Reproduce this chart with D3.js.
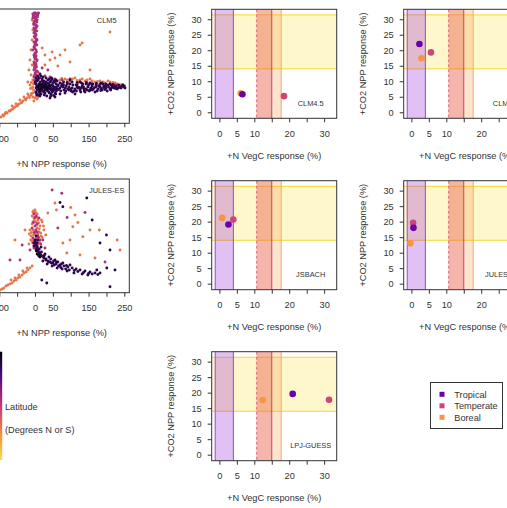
<!DOCTYPE html>
<html lang="en">
<head>
<meta charset="UTF-8">
<title>N and CO2 responses</title>
<script src="https://d3js.org/d3.v7.min.js"></script>
<style>
  body { margin: 0; background: #fff; }
  svg { display: block; font-family: "Liberation Sans", Arial, sans-serif; }
  .frame { fill: none; stroke: #333; stroke-width: 1; }
  .tick text { font-size: 9.2px; fill: #333; }
  .tick line { stroke: #333; }
  .title { font-size: 9.2px; fill: #333; }
  .model { font-size: 7.4px; fill: #333; }
</style>
</head>
<body>
<script>
// ---- small panels: model values per biome (tropical, temperate, boreal)
const biomes = ["Tropical", "Temperate", "Boreal"];
const clm45VegC = [6.6, 18.5, 6.1];
const clm45Npp  = [5.8, 5.2, 6.1];
const clm5VegC  = [2.3, 5.6, 2.9];
const clm5Npp   = [22.0, 19.3, 17.4];
const jsbachVegC = [2.6, 4.0, 0.8];
const jsbachNpp  = [19.1, 20.7, 21.2];
const julesVegC = [0.6, 0.5, -0.3];
const julesNpp  = [18.0, 19.6, 13.0];
const lpjVegC   = [21.0, 31.4, 12.4];
const lpjNpp    = [19.6, 17.7, 17.6];

// observed ranges (shaded)
const obsVegCTropical  = [-1.2, 4.0];
const obsVegCTemperate = [10.7, 15.0];
const obsVegCBoreal    = [10.7, 17.7];
const obsNppCO2        = [14.0, 31.4];

// ticks
const smallTicks = [0, 5, 10, 15, 20, 25, 30];
const smallXLabels = [0, 5, 10, 20, 30];
const bigTicks = [-100, -50, 0, 50, 100, 150, 200, 250];
const bigXLabels = [-100, 0, 50, 150, 250];

// ---- big panels: gridcell scatter, grouped by latitude (deg N or S)
const latGroups = [62, 40, 12, 3];
const clm5Lat62 = [[-6,-28],[-11,-36],[-17,-40],[-22,-48],[-28,-52],[-34,-60],[-39,-68],[-45,-72],[-50,-80],[-56,-84],[-62,-92],[-67,-96],[-73,-100],[-78,-108],[-84,-112],[-90,-116],[-95,-124],[-20,-32],[-31,-44],[-42,-56],[-53,-72],[-64,-80],
  [-10,-30],[-15,-46],[-26,-56],[-37,-66],[-48,-76],[-60,-88],[-70,-100],[-82,-106],[-88,-120],
  [-6,-44],[0,-48],[6,-52],[-3,-60],[3,-40],[8,-44],[-4,-16],[-6,-4],[-4,8],[-10,14],[-12,-10],
  [-8,184],[-11,144],[-14,104],[-8,84],[-17,64],[-11,44],[-6,24],[-14,4],[-8,-8],[-20,16],[-6,224],[-8,264],[-3,244],
  [70,24],[84,28],[98,20],[112,32],[126,24],[140,20],[154,28],[168,16],[182,20],[196,12],[210,16],[224,12],[238,4],[92,12],[120,12],[148,8],
  [60,20],[75,30],[90,24],[105,28],[118,22],[132,28],[146,24],[160,20],[175,18],[190,16],[204,20],[218,14],[230,8],[244,6],
  [28,84],[42,104],[56,112],[70,124],[84,144],[126,164],[210,216],[48,136],[64,80],[98,96],[154,64],[28,124],[20,152],[132,172]];
const clm5Lat40 = [[0,292],[3,288],[-3,284],[6,280],[0,272],[3,264],[-3,256],[0,248],[6,240],[3,232],[0,224],[-3,212],[3,204],[0,192],[3,180],[0,168],[-3,156],[3,144],[0,132],[3,120],[0,108],[-3,96],[3,84],[0,72],[3,60],[0,48],[-3,36],[3,28],
  [6,264],[-6,272],[8,284],[-3,232],[6,184],[-6,144],[6,104],[-3,64],[8,56],[6,40],
  [1,276],[-1,260],[2,244],[-1,216],[1,200],[2,172],[-1,160],[1,128],[-2,116],[2,90],[-1,78],[1,52],[2,16],[0,10],
  [4,290],[-2,292],[5,286],[-4,278],[2,268],[5,256],[-4,248],[4,236],[-2,228],[5,220],[2,208],[-2,198],[4,188],[-3,176],[5,164],[-1,150],[4,136],[-3,124],[2,112],[5,100],[-2,88],[4,76],[-2,68],[5,60],[2,44],[-2,40],[4,20],[-1,24],
  [-6,288],[8,290],[-5,280],[7,276],[10,292],
  [14,32],[28,40],[42,36],[56,28],[76,24],[98,28],[36,64],[20,72],[182,0],[224,4]];
const clm5Lat12 = [[3,8],[8,0],[14,-8],[20,4],[25,-4],[31,8],[36,0],[42,-12],[48,4],[53,-4],[59,8],[6,-16],[11,-24],[17,-32],[22,-20],[28,-28],[34,-16],[39,-24],[45,-32],[50,-20],[56,-28],[62,-12],
  [8,24],[14,16],[20,28],[25,20],[31,32],[36,24],[42,16],[48,28],[53,20],[3,-8],[11,8],[17,-16],[22,12],[28,-12],[34,0],[39,8],[45,-8],[50,12],[56,-16],[64,0],[70,12],[6,-36],[14,-40],[0,16],[3,32],[8,40],[14,48],
  [5,0],[10,-10],[15,-20],[20,-12],[25,10],[30,-4],[35,-20],[40,4],[45,-16],[50,0],[55,-8],[60,-20],[65,4],[5,20],[10,30],[15,-30],[20,20],[25,-24],[30,16],[35,12],[40,-28],[45,20],[50,-12],[55,16],[60,-4],
  [12,0],[18,-2],[28,-16],[38,-4],[48,-24],[58,-32],[2,-24],[4,-30],[10,-36],[26,-36],[33,-40],[44,-40],[52,-38],[16,40],[22,36],[40,28],[46,32],[58,24],[62,20],
  [70,-8],[76,8],[81,-16],[87,0],[92,-12],[98,8],[104,-8],[109,-20],[115,4],[120,-8],[126,-16],[132,0],[137,-12],[143,8],[148,-4],[154,-16],[160,0],[165,-8],[171,4],[176,-12],[182,-4],[188,-16],[193,0],[199,-8],[204,4],[210,-12],[216,-4],[221,-8],[227,0],[232,-8],[238,-4],[244,0],[249,-4],[252,-8],
  [66,-14],[72,-20],[74,0],[80,4],[85,-8],[95,-4],[100,-12],[106,4],[112,-12],[118,4],[124,-6],[130,-8],[136,-4],[142,-12],[150,4],[156,-8],[163,-12],[170,-4],[178,0],[185,-10],[192,-6],[198,0],[206,-4],[214,-8],[219,0],[225,-4],[235,-6],[242,-2],[250,0],
  [86,-20],[95,-16],[105,-24],[116,-20],[128,-24],[138,-20],[152,-20],[160,-16],[184,-18],[196,-14],[212,-16],[226,-10],
  [80,16],[90,14],[104,16],[118,14],[130,12],[144,14],[158,8],[172,10],[186,12],[198,8],[218,6],[234,4],
  [84,-28],[112,-32],[140,-24],[168,-24],[98,24],[126,16],[154,12],[182,8],[210,8],[70,-32],[56,-44],[42,-48],
  [78,-4],[90,8],[101,-20],[118,-4],[134,8],[146,-16],[162,8],[174,-20],[190,8],[202,-20],[213,4],[230,-12],[241,-8],[246,4]];
const clm5Lat3 = [[8,-4],[20,-8],[25,0],[14,4],[31,-8],[42,0],[12,-14],[18,6],[28,4],[36,-10]];

const julesLat62 = [[-6,172],[0,180],[6,164],[-3,148],[3,132],[8,140],[-8,124],[14,116],[-6,100],[0,84],[6,108],[11,92],[-11,76],[-3,60],[3,68],[17,76],[-14,100],[20,132],[25,100],[-17,44],[8,44],
  [-4,176],[2,170],[-8,156],[6,150],[-2,140],[10,128],[-6,132],[4,120],[12,104],[-10,90],[2,96],[16,88],[-4,80],[8,84],[20,70],[-8,56],[4,52],[12,50],[-12,60],[0,40],[24,116],[-16,84],[18,140],[30,80],
  [-8,-44],[-14,-52],[-20,-60],[-25,-68],[-31,-72],[-36,-80],[-42,-88],[-48,-92],[-53,-100],[-59,-104],[-64,-112],[-70,-116],[-76,-120],[-81,-124],[-87,-132],[-92,-136],[-98,-140],[-22,-52],[-34,-64],[-45,-80],[-56,-92],[-67,-100],
  [56,208],[36,168],[106,113],[134,73],[78,48],[89,8],[112,160],[154,100],[238,20],[-28,100],[-56,60],[98,60],[126,0],[168,-12],
  [60,180],[120,130],[100,190],[180,100],[230,60]];
const julesLat40 = [[-3,164],[3,156],[0,116],[6,92],[-6,68],[3,44],[8,76],[14,60],[-3,28],[-8,108],[11,148],[22,60],[28,28],[-14,20],
  [0,150],[-4,130],[6,124],[2,100],[-2,90],[10,70],[4,60],[-6,48],[16,44],[0,30],[8,28],
  [75,247],[-42,-20],[-70,-20],[48,260],[64,108],[-36,40],[196,-28],[90,150],[140,170]];
const julesLat12 = [[0,52],[6,36],[8,20],[14,8],[20,-4],[25,-12],[31,-16],[36,-24],[42,-28],[50,-32],[59,-36],[70,-40],[81,-44],[92,-48],[104,-52],[115,-56],[126,-60],[140,-64],[154,-68],[168,-72],[182,-72],
  [3,20],[11,-4],[22,-24],[34,-36],[48,-44],[62,-52],[76,-56],[90,-64],[109,-72],[132,-76],[148,-80],[-3,36],[3,76],[8,60],[17,32],[28,4],[39,-8],[56,-20],[64,-28],[78,-32],[98,-40],
  [2,40],[5,28],[10,12],[16,0],[24,-8],[30,-20],[38,-28],[46,-32],[54,-40],[66,-44],[72,-50],[86,-56],[96,-60],[110,-62],[120,-66],[136,-70],[150,-74],[160,-76],[176,-78],
  [-2,48],[0,60],[6,48],[12,24],[18,12],[26,-2],[44,-16],[52,-24],[60,-28],[74,-36],[88,-42],
  [78,193],[145,228],[182,48],[210,20],[210,-127],[19,-100],[33,-112],[173,-60],[201,-52],[224,-60],[70,210],[160,140],[200,80]];
const julesLat3 = [[6,4],[14,-8],[4,16],[10,0]];

// ---- colours
const biomeColor = ["#6a00a8", "#cc4778", "#f89540"];
const latColor = d3.scaleLinear()
  .domain([0, 20, 45, 70, 90])
  .range(["#000004", "#4a0c80", "#c23a7a", "#f7923a", "#f9e04a"]);

const svg = d3.select("body").append("svg")
  .attr("width", 507).attr("height", 508);

// ---------- big scatter panels
const bigW = 136.1;
function bigPanel(left, top, h, yDomain, groups, name) {
  const g = svg.append("g").attr("transform", `translate(${left},${top})`);
  const x = d3.scaleLinear().domain([-117, 264]).range([0, bigW]);
  const y = d3.scaleLinear().domain(yDomain).range([h, 0]);

  groups.forEach(([lat, pts]) => {
    g.append("g").selectAll("circle")
      .data(pts)
      .enter().append("circle")
        .attr("cx", d => x(d[0]))
        .attr("cy", d => y(d[1]))
        .attr("r", 1.45)
        .attr("fill", latColor(lat));
  });

  g.append("rect").attr("class", "frame")
    .attr("width", bigW).attr("height", h);

  const ax = g.append("g")
    .attr("transform", `translate(0,${h})`)
    .call(d3.axisBottom(x).tickValues(bigTicks).tickSize(4).tickPadding(8)
      .tickFormat(d => bigXLabels.includes(d) ? d : ""));
  ax.select(".domain").remove();
  ax.selectAll("text").attr("font-size", null);

  g.append("text").attr("class", "model")
    .attr("x", 113.5).attr("y", 11.7).attr("dy", "0.35em")
    .attr("text-anchor", "middle").text(name);

  g.append("text").attr("class", "title")
    .attr("x", 68.5).attr("y", h + 40).attr("dy", "0.35em")
    .attr("text-anchor", "middle").text("+N NPP response (%)");
}

bigPanel(-6.8, 9, 114.3, [-149, 308],
  [[latGroups[0], clm5Lat62], [latGroups[1], clm5Lat40], [latGroups[2], clm5Lat12], [latGroups[3], clm5Lat3]], "CLM5");
bigPanel(-6.8, 179, 113.7, [-151, 304],
  [[latGroups[0], julesLat62], [latGroups[1], julesLat40], [latGroups[2], julesLat12], [latGroups[3], julesLat3]], "JULES-ES");

// ---------- small model panels
const panelW = 125, panelH = 109;
const sx = d3.scaleLinear().domain([-2.2, 33.6]).range([0, panelW]);
const sy = d3.scaleLinear().domain([-1.94, 33.2]).range([panelH, 0]);

function vBand(g, range, fill, opacity, edges) {
  g.append("rect")
    .attr("x", sx(range[0])).attr("width", sx(range[1]) - sx(range[0]))
    .attr("y", 0).attr("height", panelH)
    .attr("fill", fill).attr("fill-opacity", opacity);
  edges.forEach((e, i) => {
    if (!e) return;
    g.append("line")
      .attr("x1", sx(range[i])).attr("x2", sx(range[i]))
      .attr("y1", 0).attr("y2", panelH)
      .attr("stroke", e.color).attr("stroke-width", 1)
      .attr("stroke-dasharray", e.dash || null);
  });
}

function smallPanel(left, top, name, vegc, npp) {
  const g = svg.append("g").attr("transform", `translate(${left},${top})`);

  // CO2 NPP observed range
  g.append("rect")
    .attr("x", 0).attr("width", panelW)
    .attr("y", sy(obsNppCO2[1])).attr("height", sy(obsNppCO2[0]) - sy(obsNppCO2[1]))
    .attr("fill", "#ffe033").attr("fill-opacity", 0.25);
  obsNppCO2.forEach(v => {
    g.append("line").attr("x1", 0).attr("x2", panelW)
      .attr("y1", sy(v)).attr("y2", sy(v))
      .attr("stroke", "#f7d62a").attr("stroke-width", 1);
  });

  vBand(g, obsVegCTropical, "#9b30d9", 0.3,
    [{color: "#9a48cc"}, {color: "#9a48cc"}]);
  vBand(g, obsVegCBoreal, "#f89540", 0.25,
    [null, {color: "#f8a868"}]);
  vBand(g, obsVegCTemperate, "#e04050", 0.28,
    [{color: "#e0607a", dash: "3,2"}, {color: "#c04a60"}]);

  // model points: boreal, temperate, tropical (tropical on top)
  [2, 1, 0].forEach(i => {
    g.append("circle")
      .attr("cx", sx(vegc[i])).attr("cy", sy(npp[i]))
      .attr("r", 3.3).attr("fill", biomeColor[i]);
  });

  g.append("rect").attr("class", "frame")
    .attr("width", panelW).attr("height", panelH);

  const ax = g.append("g")
    .attr("transform", `translate(0,${panelH})`)
    .call(d3.axisBottom(sx).tickValues(smallTicks).tickSize(4).tickPadding(8)
      .tickFormat(d => smallXLabels.includes(d) ? d : ""));
  ax.select(".domain").remove();
  ax.selectAll("text").attr("font-size", null);

  const ay = g.append("g")
    .call(d3.axisLeft(sy).tickValues(smallTicks).tickSize(4).tickPadding(6));
  ay.select(".domain").remove();
  ay.selectAll("text").attr("font-size", null);

  g.append("text").attr("class", "model")
    .attr("x", 99).attr("y", panelH - 15.3).attr("dy", "0.35em")
    .attr("text-anchor", "middle").text(name);

  g.append("text").attr("class", "title")
    .attr("x", panelW / 2).attr("y", panelH + 37).attr("dy", "0.35em")
    .attr("text-anchor", "middle").text("+N VegC response (%)");

  g.append("text").attr("class", "title")
    .attr("transform", `translate(-41,${panelH / 2}) rotate(-90)`)
    .attr("dy", "0.35em").attr("text-anchor", "middle")
    .text("+CO2 NPP response (%)");
}

smallPanel(211.7, 9.3, "CLM4.5", clm45VegC, clm45Npp);
smallPanel(403.7, 9.3, "CLM5", clm5VegC, clm5Npp);
smallPanel(211.7, 180.7, "JSBACH", jsbachVegC, jsbachNpp);
smallPanel(403.7, 180.7, "JULES-ES", julesVegC, julesNpp);
smallPanel(211.7, 351.7, "LPJ-GUESS", lpjVegC, lpjNpp);

// ---------- latitude colour bar
const grad = svg.append("defs").append("linearGradient")
  .attr("id", "latgrad").attr("x1", 0).attr("x2", 0).attr("y1", 0).attr("y2", 1);
latColor.domain().forEach(v => {
  grad.append("stop").attr("offset", v / 90).attr("stop-color", latColor(v));
});
svg.append("rect")
  .attr("x", -8).attr("y", 351.7).attr("width", 10.2).attr("height", 108.3)
  .attr("fill", "url(#latgrad)");
svg.append("text").attr("class", "title")
  .attr("x", 5).attr("y", 406.7).attr("dy", "0.35em").text("Latitude");
svg.append("text").attr("class", "title")
  .attr("x", 5).attr("y", 430).attr("dy", "0.35em").text("(Degrees N or S)");

// ---------- biome legend
const leg = svg.append("g").attr("transform", "translate(430.5,382.5)");
leg.append("rect").attr("width", 72).attr("height", 46)
  .attr("fill", "#fff").attr("stroke", "#333");
biomes.forEach((b, i) => {
  const yy = 11.8 + i * 11.5;
  leg.append("rect").attr("x", 9).attr("y", yy - 2.5)
    .attr("width", 5).attr("height", 5).attr("fill", biomeColor[i]);
  leg.append("text").attr("class", "title")
    .attr("x", 23.8).attr("y", yy).attr("dy", "0.35em").text(b);
});
</script>
</body>
</html>
